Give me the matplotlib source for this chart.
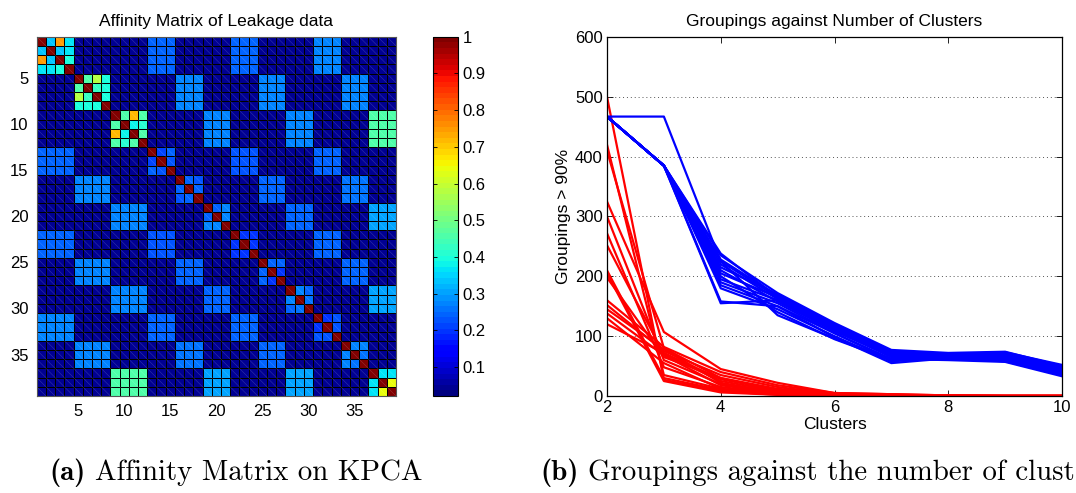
import numpy as np
import matplotlib
matplotlib.use('Agg')
import matplotlib.pyplot as plt
from matplotlib.collections import LineCollection

plt.rcParams['font.family'] = ['Liberation Sans', 'DejaVu Sans']

# ---- affinity matrix data (block structure) ----
block_sizes = [4, 4, 4, 3, 3, 3, 3, 3, 3, 3, 3, 3]
background = 0.04

# off-diagonal affinities inside each diagonal block
inner_blocks = [
    [[1, .33, .745, .37], [.33, 1, .33, .37], [.745, .33, 1, .40], [.37, .37, .40, 1]],
    [[1, .45, .58, .40], [.45, 1, .43, .39], [.58, .43, 1, .40], [.40, .39, .40, 1]],
    [[1, .46, .72, .46], [.46, 1, .38, .41], [.72, .38, 1, .45], [.46, .41, .45, 1]],
    [[1, .21, .24], [.21, 1, .23], [.24, .23, 1]],
    [[1, .24, .22], [.24, 1, .25], [.22, .25, 1]],
    [[1, .25, .27], [.25, 1, .27], [.27, .27, 1]],
    [[1, .20, .20], [.20, 1, .20], [.20, .20, 1]],
    [[1, .24, .24], [.24, 1, .20], [.24, .20, 1]],
    [[1, .27, .25], [.27, 1, .26], [.25, .26, 1]],
    [[1, .20, .23], [.20, 1, .22], [.23, .22, 1]],
    [[1, .27, .27], [.27, 1, .26], [.27, .26, 1]],
    [[1, .36, .36], [.36, 1, .645], [.36, .645, 1]],
]

# affinity between different blocks of the same group (block i, block j, value)
cross_blocks = [
    (0, 3, .24), (0, 6, .25), (0, 9, .27), (3, 6, .23), (3, 9, .25), (6, 9, .24),
    (1, 4, .27), (1, 7, .28), (1, 10, .28), (4, 7, .25), (4, 10, .26), (7, 10, .25),
    (2, 5, .28), (2, 8, .27), (2, 11, .45), (5, 8, .25), (5, 11, .31), (8, 11, .30),
]

# ---- groupings vs clusters ----
clusters = [2, 3, 4, 5, 6, 7, 8, 9, 10]
red_lines = [
    [500, 27, 8, 2, 0, 0, 0, 0, 0],
    [420, 35, 12, 3, 1, 0, 0, 0, 0],
    [410, 80, 30, 10, 3, 1, 0, 0, 0],
    [325, 107, 45, 22, 5, 3, 1, 0, 0],
    [300, 60, 20, 5, 1, 0, 0, 0, 0],
    [272, 48, 15, 4, 1, 0, 0, 0, 0],
    [252, 70, 25, 8, 2, 1, 0, 0, 0],
    [210, 30, 10, 3, 0, 0, 0, 0, 0],
    [205, 25, 6, 2, 0, 0, 0, 0, 0],
    [198, 65, 30, 12, 4, 2, 1, 0, 0],
    [160, 82, 40, 18, 5, 3, 1, 0, 0],
    [152, 75, 35, 15, 3, 2, 0, 0, 0],
    [145, 78, 22, 6, 2, 1, 0, 0, 0],
    [138, 68, 18, 5, 1, 0, 0, 0, 0],
    [130, 55, 12, 4, 1, 0, 0, 0, 0],
    [120, 72, 28, 10, 3, 1, 0, 0, 0],
]
blue_lines = [
    [467, 467, 225, 165, 115, 70, 68, 70, 42],
    [467, 385, 155, 160, 110, 65, 65, 65, 40],
    [467, 385, 158, 150, 105, 60, 62, 60, 36],
    [467, 385, 180, 145, 100, 58, 64, 62, 38],
    [467, 385, 185, 150, 98, 55, 63, 58, 35],
    [467, 385, 190, 155, 105, 62, 66, 66, 44],
    [467, 385, 195, 160, 110, 66, 67, 68, 46],
    [467, 385, 200, 140, 95, 60, 62, 64, 40],
    [467, 385, 205, 165, 112, 70, 68, 70, 48],
    [467, 385, 210, 158, 108, 68, 65, 67, 45],
    [467, 385, 215, 170, 118, 72, 70, 72, 50],
    [467, 385, 220, 162, 112, 74, 68, 69, 47],
    [467, 385, 228, 168, 120, 75, 70, 73, 52],
    [467, 385, 235, 172, 122, 77, 72, 74, 50],
    [467, 385, 238, 165, 118, 72, 69, 71, 48],
    [467, 385, 225, 135, 96, 62, 60, 57, 33],
]

# caption (b) is cropped at "clust" in the reference figure
captions = [('(a)', 'Affinity Matrix on KPCA'),
            ('(b)', 'Groupings against the number of clust')]

# build the matrix
n = sum(block_sizes)
starts = np.cumsum([0] + block_sizes)
A = np.full((n, n), background)
for b, blk in enumerate(inner_blocks):
    s = starts[b]
    k = block_sizes[b]
    A[s:s + k, s:s + k] = np.array(blk)
for bi, bj, v in cross_blocks:
    A[starts[bi]:starts[bi + 1], starts[bj]:starts[bj + 1]] = v
    A[starts[bj]:starts[bj + 1], starts[bi]:starts[bi + 1]] = v

fig = plt.figure(figsize=(10.76, 4.93), dpi=100)

# ---- left: affinity matrix ----
ax1 = fig.add_axes([36.7 / 1076, 97 / 493, 359.3 / 1076, 359.3 / 493])
cmap = plt.get_cmap('jet', 64)
edges = np.arange(n + 1) + 0.5
mesh = ax1.pcolormesh(edges, edges, A, cmap=cmap, vmin=0.021, vmax=1,
                      edgecolors='k', linewidth=0.7)
# faint diagonal seams inside each cell
segs = [[(j + 0.5, i + 0.5), (j + 1.5, i + 1.5)] for i in range(n) for j in range(n)]
ax1.add_collection(LineCollection(segs, colors='white', linewidths=0.4, alpha=0.2))
ax1.set_xlim(0.5, n + 0.5)
ax1.set_ylim(n + 0.5, 0.5)
ax1.set_xticks(range(5, 36, 5))
ax1.set_yticks(range(5, 36, 5))
ax1.tick_params(length=0, labelsize=12, pad=6)
for sp in ax1.spines.values():
    sp.set_linewidth(0.8)
    sp.set_color('#555555')
ax1.set_title('Affinity Matrix of Leakage data', fontsize=12.5, pad=8)

cax = fig.add_axes([432.7 / 1076, 97 / 493, 25.6 / 1076, 359.3 / 493])
cb = fig.colorbar(mesh, cax=cax, ticks=np.arange(0.1, 1.01, 0.1))
cb.ax.set_yticklabels(['0.1', '0.2', '0.3', '0.4', '0.5', '0.6', '0.7', '0.8', '0.9', '1'])
cb.ax.tick_params(direction='in', left=True, right=True, length=3, width=0.6,
                  labelsize=12, pad=3)
cb.outline.set_linewidth(0.8)

# ---- right: groupings ----
ax2 = fig.add_axes([607 / 1076, 97 / 493, 455 / 1076, 359 / 493])
for ys in red_lines:
    ax2.plot(clusters, ys, color='red', lw=1.6)
for ys in blue_lines:
    ax2.plot(clusters, ys, color='blue', lw=1.6)
ax2.set_xlim(2, 10)
ax2.set_ylim(0, 600)
ax2.set_xticks([2, 4, 6, 8, 10])
ax2.set_yticks(range(0, 601, 100))
ax2.yaxis.grid(True, linestyle=(0, (1, 3)), color='#555555', linewidth=0.7)
ax2.tick_params(direction='in', top=True, right=True, length=4, width=0.6,
                labelsize=12, pad=3)
for sp in ax2.spines.values():
    sp.set_linewidth(0.9)
ax2.set_xlabel('Clusters', fontsize=12.5, labelpad=1)
ax2.set_ylabel('Groupings > 90%', fontsize=12.5, labelpad=3)
ax2.set_title('Groupings against Number of Clusters', fontsize=12.5, pad=8)

# ---- captions: bold label + roman text ----
fig.canvas.draw()
renderer = fig.canvas.get_renderer()
for (lab, txt), x0 in zip(captions, [49, 540]):
    t1 = fig.text(x0 / 1076, 1 - 473 / 493, lab, fontfamily='cmb10',
                  fontsize=20.8, va='center', ha='left')
    bb = t1.get_window_extent(renderer)
    fig.text((bb.x1 + 10) / 1076, 1 - 473 / 493, txt, fontfamily='cmr10',
             fontsize=20.8, va='center', ha='left')

fig.savefig('out.png', dpi=100)
